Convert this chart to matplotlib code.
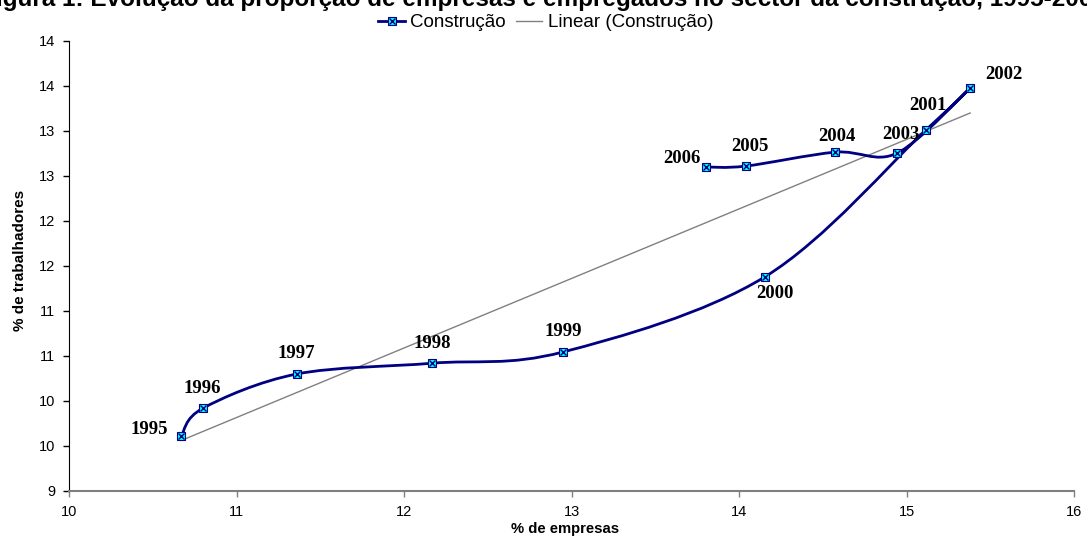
import numpy as np
import matplotlib
matplotlib.use("Agg")
import matplotlib.pyplot as plt
from matplotlib.path import Path
from matplotlib.patches import PathPatch
from matplotlib.lines import Line2D
from matplotlib.ticker import FixedLocator, FuncFormatter

# Data (in series order)
years = ["1995", "1996", "1997", "1998", "1999", "2000", "2001", "2002", "2003", "2004", "2005", "2006"]
empresas = [10.67, 10.80, 11.36, 12.17, 12.95, 14.155, 15.115, 15.38, 14.945, 14.575, 14.04, 13.80]
trabalhadores = [9.61, 9.92, 10.30, 10.42, 10.545, 11.38, 13.01, 13.48, 12.755, 12.765, 12.61, 12.60]

title = "Figura 1: Evolução da proporção de empresas e empregados no sector da construção, 1995-2006"
series_name = "Construção"
trend_name = "Linear (Construção)"
xlabel = "% de empresas"
ylabel = "% de trabalhadores"
x_ticks = [10, 11, 12, 13, 14, 15, 16]
y_ticks = [9, 9.5, 10, 10.5, 11, 11.5, 12, 12.5, 13, 13.5, 14]

# label offsets in pixels (dx, dy to text centre; dy positive = up)
label_offsets = {
    "1995": (-32, 9),
    "1996": (-1, 22),
    "1997": (0, 22),
    "1998": (0, 22),
    "1999": (0, 22),
    "2000": (10, -15),
    "2001": (2, 27),
    "2002": (34, 15),
    "2003": (4, 21),
    "2004": (2, 18),
    "2005": (4, 22),
    "2006": (-24, 10),
}

plt.rcParams['font.family'] = ['Liberation Sans', 'DejaVu Sans']

fig = plt.figure(figsize=(10.87, 5.46), dpi=100)
ax = fig.add_axes([69/1087, 1 - 491/546, (1074 - 69)/1087, (491 - 41)/546])

x = np.array(empresas)
y = np.array(trabalhadores)

# Excel-like smoothed line (cubic Bezier, Catmull-Rom style)
pts = np.column_stack([x, y])
n = len(pts)
verts = [pts[0]]
codes = [Path.MOVETO]
for i in range(n - 1):
    p0 = pts[i - 1] if i > 0 else pts[i]
    p1 = pts[i]
    p2 = pts[i + 1]
    p3 = pts[i + 2] if i + 2 < n else pts[i + 1]
    c1 = p1 + (p2 - p0) / 6.0
    c2 = p2 - (p3 - p1) / 6.0
    verts += [c1, c2, p2]
    codes += [Path.CURVE4] * 3
path = Path(np.array(verts), codes)
ax.add_patch(PathPatch(path, facecolor='none', edgecolor='#000080', lw=2.0, zorder=3))

# Trend line
m, b = np.polyfit(x, y, 1)
xt = np.array([x.min(), x.max()])
ax.plot(xt, m * xt + b, color='#808080', lw=1.0, zorder=2)

# Markers
ax.plot(x, y, linestyle='none', marker='s', markersize=6, markerfacecolor='#00FFFF',
        markeredgecolor='#000080', markeredgewidth=0.8, zorder=4)
ax.plot(x, y, linestyle='none', marker='x', markersize=4, markeredgecolor='#000080',
        markeredgewidth=1.0, zorder=5)

# year labels: baseline placed ~6px below visual centre
for yr, xv, yv in zip(years, x, y):
    dx, dy = label_offsets[yr]
    ax.annotate(yr, (xv, yv), xytext=(dx, dy - 6.5), textcoords='offset pixels', ha='center',
                va='baseline', fontsize=13.5, fontweight='bold',
                family=['Liberation Serif', 'DejaVu Serif'], zorder=6)

ax.set_xlim(10, 16)
ax.set_ylim(9, 14)
ax.xaxis.set_major_locator(FixedLocator(x_ticks))
ax.yaxis.set_major_locator(FixedLocator(y_ticks))
ax.yaxis.set_major_formatter(FuncFormatter(lambda v, p: "%d" % int(np.floor(v + 0.5))))
ax.xaxis.set_major_formatter(FuncFormatter(lambda v, p: "%d" % int(round(v))))
ax.tick_params(axis='both', direction='out', length=4, width=1, labelsize=10.5, pad=6)
ax.tick_params(axis='x', colors='#808080', labelcolor='black')
for s in ['top', 'right']:
    ax.spines[s].set_visible(False)
ax.spines['bottom'].set_color('#808080')
ax.spines['bottom'].set_linewidth(1.5)
ax.spines['left'].set_color('black')

ax.set_xlabel(xlabel, fontsize=10.7, fontweight='bold')
ax.set_ylabel(ylabel, fontsize=11, fontweight='bold')
ax.xaxis.set_label_coords((565.5 - 69) / 1005, (491 - 529) / 450)
ax.xaxis.label.set_va('center')
ax.yaxis.set_label_coords((20 - 69) / 1005, (491 - 260) / 450)
ax.yaxis.label.set_va('center')

h_line = Line2D([0], [0], color='#000080', lw=2.0, marker='s', markersize=6,
                markerfacecolor='#00FFFF', markeredgecolor='#000080', markeredgewidth=0.8)
h_x = Line2D([0], [0], linestyle='none', marker='x', markersize=4, markeredgecolor='#000080',
             markeredgewidth=1.0)
h_trend = Line2D([0], [0], color='#808080', lw=1.0)
fig.legend([(h_line, h_x), h_trend], [series_name, trend_name], loc='center',
           bbox_to_anchor=(546 / 1087, 1 - 22.7 / 546), ncol=2, frameon=False, fontsize=13.5,
           handlelength=1.4, handletextpad=0.3, columnspacing=0.55, borderpad=0, borderaxespad=0)

fig.text(0.5, 1 - 6 / 546, title, ha='center', va='baseline', fontsize=17.5, fontweight='bold')

fig.savefig("out.png", dpi=100)
